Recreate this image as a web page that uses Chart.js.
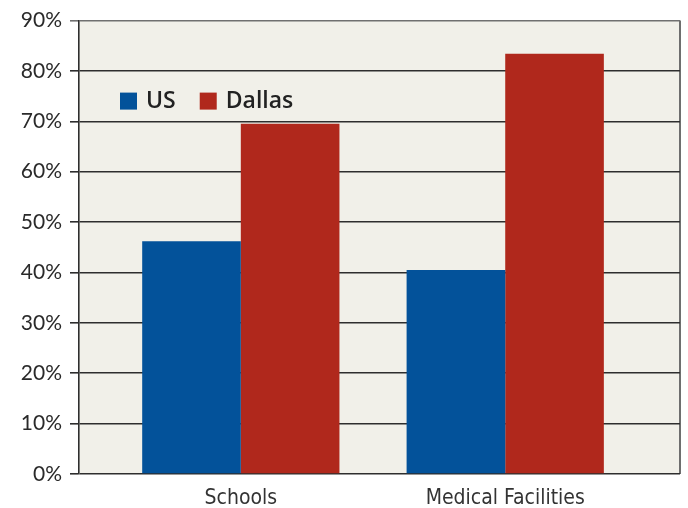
<!DOCTYPE html>
<html>
<head>
<meta charset="utf-8">
<script src="https://cdn.jsdelivr.net/npm/chart.js@4"></script>
<style>
  html, body { margin: 0; padding: 0; background: #fff; }
  #wrap { width: 688px; height: 508px; }
</style>
</head>
<body>
<div id="wrap"><canvas id="chart" width="688" height="508"></canvas></div>
<script>
/* ================= DATA ================= */
const categories = ["Schools", "Medical Facilities"];
const seriesNames = ["US", "Dallas"];
const usValues = [46.2, 40.5];
const dallasValues = [69.5, 83.4];
const yTicks = [0, 10, 20, 30, 40, 50, 60, 70, 80, 90];

const BLUE = "#03529a";
const RED = "#b0281c";
const PLOT_BG = "#f1f0e9";

/* ================= PLOT BACKGROUND + RIGHT BORDER ================= */
const plotFrame = {
    id: "plotFrame",
    beforeDraw(chart) {
        const { ctx, chartArea: a } = chart;
        ctx.save();
        ctx.fillStyle = PLOT_BG;
        ctx.fillRect(a.left, a.top, a.right - a.left, a.bottom - a.top);
        ctx.strokeStyle = "#6e6e6e";
        ctx.lineWidth = 2;
        ctx.beginPath();
        ctx.moveTo(a.right, a.top);
        ctx.lineTo(a.right, a.bottom);
        ctx.stroke();
        ctx.restore();
    }
};

/* ================= LEGEND INSIDE PLOT ================= */
const innerLegend = {
    id: "innerLegend",
    afterDatasetsDraw(chart) {
        const { ctx, chartArea: a } = chart;
        const y = a.top + 72;
        let x = a.left + 41;
        ctx.save();
        ctx.font = "600 23px 'Open Sans', sans-serif";
        ctx.textBaseline = "middle";
        chart.data.datasets.forEach(ds => {
            ctx.fillStyle = ds.backgroundColor;
            ctx.fillRect(x, y, 17, 17);
            ctx.fillStyle = "#222";
            ctx.fillText(ds.label, x + 26, y + 9);
            x += 26 + ctx.measureText(ds.label).width + 24;
        });
        ctx.restore();
    }
};

/* ================= CHART ================= */
new Chart(document.getElementById("chart"), {
    type: "bar",
    data: {
        datasets: [
            {
                label: seriesNames[0],
                data: usValues.map((v, i) => ({ x: i, y: v })),
                backgroundColor: BLUE
            },
            {
                label: seriesNames[1],
                data: dallasValues.map((v, i) => ({ x: i, y: v })),
                backgroundColor: RED
            }
        ]
    },
    options: {
        responsive: false,
        animation: false,
        categoryPercentage: 0.746,
        barPercentage: 1,
        layout: { padding: { top: 17, right: 8, left: 0, bottom: 0 } },
        plugins: {
            legend: { display: false },
            tooltip: { enabled: false }
        },
        scales: {
            x: {
                type: "linear",
                offset: false,
                min: -0.612,
                max: 1.661,
                afterBuildTicks: s => { s.ticks = categories.map((_, i) => ({ value: i })); },
                afterFit: s => { s.height = 34; },
                ticks: {
                    callback: v => categories[v],
                    color: "#333",
                    padding: 4,
                    font: { family: "'DejaVu Sans Condensed', 'Liberation Sans Narrow', sans-serif", size: 21 }
                },
                grid: { display: false },
                border: { display: false }
            },
            y: {
                min: 0,
                max: 90,
                afterBuildTicks: s => { s.ticks = yTicks.map(v => ({ value: v })); },
                afterFit: s => { s.width = 79; },
                ticks: {
                    callback: v => v + "%",
                    color: "#2a2a2a",
                    padding: 8,
                    font: { family: "Lato, sans-serif", size: 21 }
                },
                grid: {
                    color: c => (c.tick && c.tick.value === 90 ? "#707070" : "#2e2e2e"),
                    lineWidth: 1.6,
                    tickLength: 9
                },
                border: { color: "#2e2e2e", width: 1.6 }
            }
        }
    },
    plugins: [plotFrame, innerLegend]
});
</script>
</body>
</html>
